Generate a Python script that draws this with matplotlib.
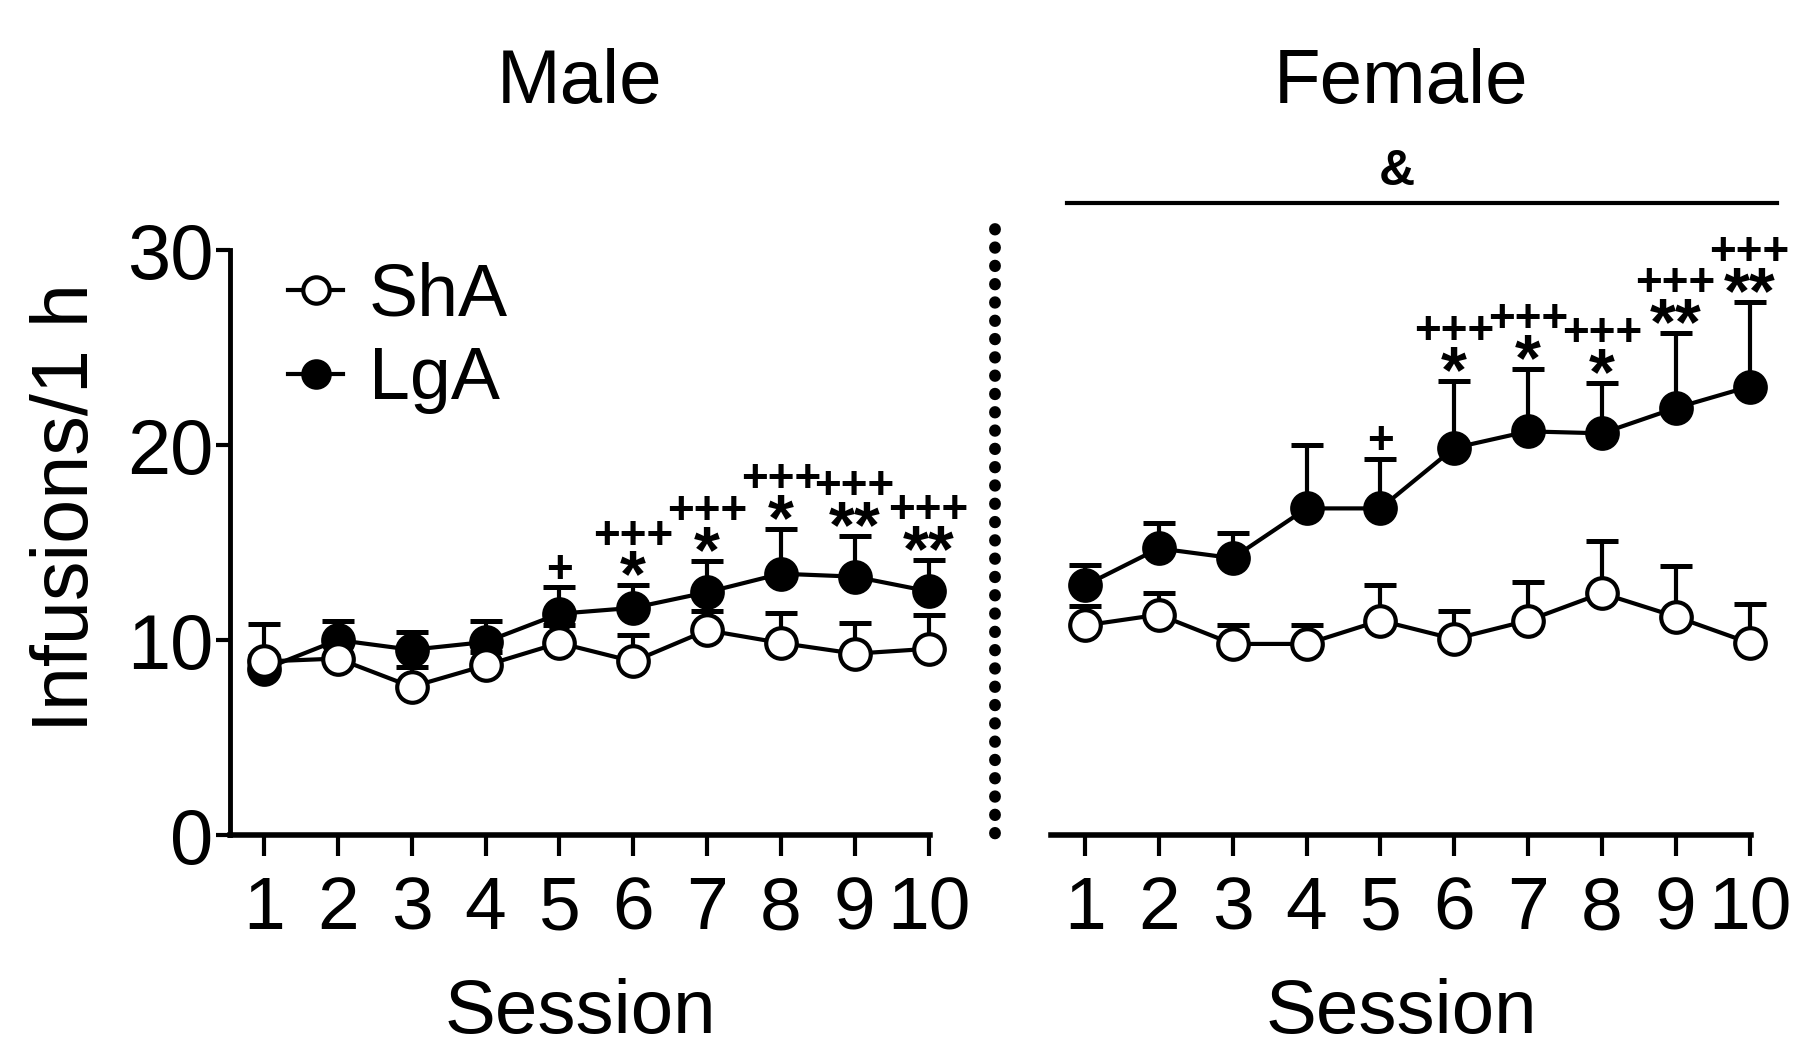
import matplotlib
matplotlib.use('Agg')
import matplotlib.pyplot as plt
from matplotlib.lines import Line2D
import numpy as np

plt.rcParams['font.family'] = ['Liberation Sans', 'DejaVu Sans']

sessions = np.arange(1, 11)

# male
male_sha = [8.9, 9.05, 7.6, 8.7, 9.85, 8.9, 10.5, 9.85, 9.3, 9.55]
male_sha_sem = [1.9, 0.8, 1.0, 0.7, 0.9, 1.35, 1.0, 1.55, 1.55, 1.75]
male_lga = [8.5, 10.0, 9.5, 9.9, 11.35, 11.65, 12.45, 13.4, 13.25, 12.5]
male_lga_sem = [0.7, 1.0, 0.9, 1.1, 1.35, 1.15, 1.6, 2.3, 2.1, 1.6]

# female
female_sha = [10.75, 11.3, 9.8, 9.8, 11.0, 10.05, 11.0, 12.4, 11.2, 9.85]
female_sha_sem = [1.0, 1.1, 0.95, 0.95, 1.8, 1.45, 2.0, 2.7, 2.6, 2.0]
female_lga = [12.8, 14.7, 14.2, 16.75, 16.75, 19.85, 20.7, 20.6, 21.9, 23.0]
female_lga_sem = [1.05, 1.3, 1.3, 3.25, 2.55, 3.45, 3.2, 2.6, 3.85, 4.35]

# significance marks (LgA vs ShA = *, vs session 1 = +)
male_stars = ['', '', '', '', '', '*', '*', '*', '**', '**']
male_plus = ['', '', '', '', '+', '+++', '+++', '+++', '+++', '+++']
female_stars = ['', '', '', '', '', '*', '*', '*', '**', '**']
female_plus = ['', '', '', '', '+', '+++', '+++', '+++', '+++', '+++']

W = 18
H = 10.51
fig = plt.figure(figsize=(W, H), dpi=100)

axm = fig.add_axes([0.1278, 0.2055, 0.3889, 0.5566])
axf = fig.add_axes([0.5839, 0.2055, 0.3889, 0.5566])


def draw_panel(ax, sha, sha_sem, lga, lga_sem, stars, plus, title):
    zero = np.zeros(len(sessions))
    ax.errorbar(sessions, sha, yerr=[zero, sha_sem], fmt='none', ecolor='black',
                elinewidth=3, capsize=11.5, capthick=3.6, zorder=1, clip_on=False)
    ax.errorbar(sessions, lga, yerr=[zero, lga_sem], fmt='none', ecolor='black',
                elinewidth=3, capsize=11.5, capthick=3.6, zorder=1, clip_on=False)
    ax.plot(sessions, lga, '-o', color='black', lw=3, ms=22, mew=3,
            mfc='black', mec='black', zorder=2, clip_on=False)
    ax.plot(sessions, sha, '-o', color='black', lw=3, ms=22, mew=3,
            mfc='white', mec='black', zorder=3, clip_on=False)

    for i in range(len(sessions)):
        top = lga[i] + lga_sem[i]
        if stars[i]:
            ax.annotate(stars[i], xy=(sessions[i], top), xytext=(0, -8),
                        textcoords='offset points', ha='center', va='baseline',
                        fontsize=48, fontweight='bold', annotation_clip=False)
            ax.annotate(plus[i], xy=(sessions[i], top), xytext=(0, 26.5),
                        textcoords='offset points', ha='center', va='baseline',
                        fontsize=33, fontweight='bold', annotation_clip=False)
        elif plus[i]:
            ax.annotate(plus[i], xy=(sessions[i], top), xytext=(0, 3.5),
                        textcoords='offset points', ha='center', va='baseline',
                        fontsize=33, fontweight='bold', annotation_clip=False)

    ax.set_xlim(0.54, 10.02)
    ax.set_ylim(0, 30)
    ax.set_xticks(sessions)
    ax.tick_params(axis='x', direction='out', length=15, width=3, labelsize=54, pad=14)
    ax.spines['top'].set_visible(False)
    ax.spines['right'].set_visible(False)
    ax.spines['bottom'].set_linewidth(4)
    ax.spines['left'].set_linewidth(3.5)
    ax.set_xlabel('Session', fontsize=55, labelpad=24)
    ax.set_title(title, fontsize=55, pad=106)


draw_panel(axm, male_sha, male_sha_sem, male_lga, male_lga_sem, male_stars, male_plus, 'Male')
draw_panel(axf, female_sha, female_sha_sem, female_lga, female_lga_sem, female_stars, female_plus, 'Female')

axm.set_yticks([0, 10, 20, 30])
axm.tick_params(axis='y', direction='out', length=10, width=3, labelsize=56, pad=2)
axm.set_ylabel('Infusions/1 h', fontsize=57, labelpad=16, y=0.56)

axf.spines['left'].set_visible(False)
axf.set_yticks([])

handles = [
    Line2D([], [], color='black', lw=3, marker='o', ms=19, mew=3, mfc='white', mec='black'),
    Line2D([], [], color='black', lw=3, marker='o', ms=19, mew=3, mfc='black', mec='black'),
]
axm.legend(handles, ['ShA', 'LgA'], loc='upper left', bbox_to_anchor=(0.083, 0.98),
           frameon=False, fontsize=53, handlelength=0.75, handletextpad=0.35,
           labelspacing=0.2, borderpad=0, borderaxespad=0)

# group effect bar over the female panel
fig.add_artist(Line2D([0.5928, 0.9872], [0.8069, 0.8069], color='black', lw=3,
                      transform=fig.transFigure))
fig.text(0.776, 0.836, '&', fontsize=36, fontweight='bold', ha='center', va='center')

# dotted divider
fig.add_artist(Line2D([0.5528, 0.5528], [0.7821, 0.1989], color='black', lw=8.5,
                      linestyle=(0, (0.05, 1.5)), dash_capstyle='round',
                      transform=fig.transFigure))

plt.savefig('out.png', dpi=100)
